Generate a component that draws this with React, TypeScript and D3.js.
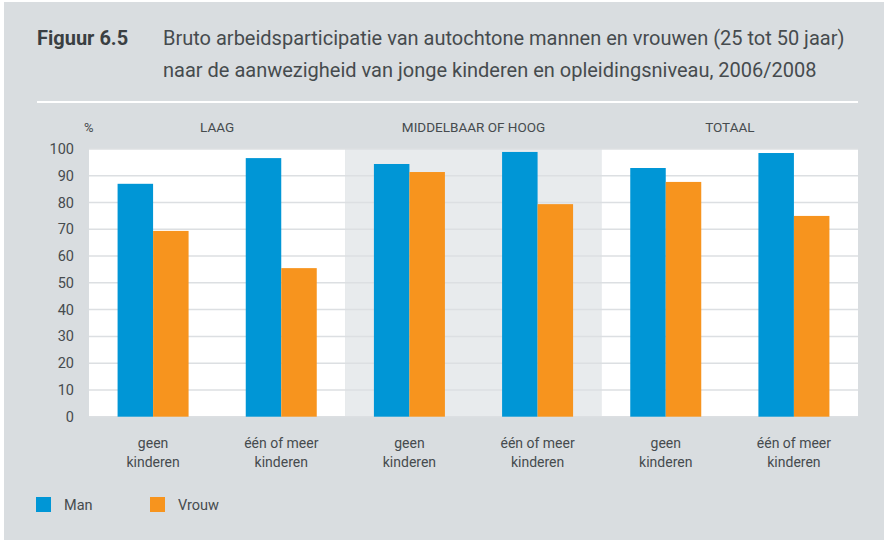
import React from "react";
import * as d3 from "d3";

const sections = ["LAAG", "MIDDELBAAR OF HOOG", "TOTAAL"];
const categories = [
  "LAAG|geen", "LAAG|een", "MID|geen", "MID|een", "TOT|geen", "TOT|een",
];
const categoryLabels = [
  ["geen", "kinderen"], ["één of meer", "kinderen"],
  ["geen", "kinderen"], ["één of meer", "kinderen"],
  ["geen", "kinderen"], ["één of meer", "kinderen"],
];
const seriesNames = ["Man", "Vrouw"];
const manValues = [87, 96.6, 94.4, 98.9, 92.9, 98.5];
const vrouwValues = [69.4, 55.5, 91.4, 79.4, 87.7, 75];
const yTicks = [0, 10, 20, 30, 40, 50, 60, 70, 80, 90, 100];

const W = 884, H = 542;
const FONT = "'Roboto', 'Liberation Sans', sans-serif";
const BLUE = "#0096d6", ORANGE = "#f7941e";
const BG = "#d9dde0", MID = "#e8ebed", TXT = "#464b4e";

export default function App() {
  const left = 89, right = 858, top = 149, bottom = 416.7;
  const x = d3.scaleBand<string>().domain(categories).range([left, right]).padding(0);
  const xSec = d3.scaleBand<string>().domain(sections).range([left, right]).padding(0);
  const y = d3.scaleLinear().domain([0, 100]).range([bottom, top]);
  const barW = 35.5;
  const series = [manValues, vrouwValues];
  const colors = [BLUE, ORANGE];

  return (
    <div style={{ position: "absolute", left: 0, top: 0 }}>
      <svg width={W} height={H} style={{ display: "block" }} fontFamily={FONT}>
        <rect x={4} y={2} width={W - 4} height={538} fill={BG} />
        <text x={37} y={45} fontSize={20} fontWeight="bold" fill="#3a3f42">Figuur 6.5</text>
        <text x={163} y={45} fontSize={20} fill={TXT}>Bruto arbeidsparticipatie van autochtone mannen en vrouwen (25 tot 50 jaar)</text>
        <text x={163} y={77} fontSize={20} fill={TXT}>naar de aanwezigheid van jonge kinderen en opleidingsniveau, 2006/2008</text>
        <line x1={37} x2={858} y1={102} y2={102} stroke="#ffffff" strokeWidth={2} />

        {sections.map((s, i) => (
          <rect key={s} x={xSec(s)!} y={top} width={xSec.bandwidth()} height={bottom - top}
            fill={i === 1 ? MID : "#ffffff"} />
        ))}
        {yTicks.map((t) => (
          <line key={t} x1={left} x2={right} y1={y(t)} y2={y(t)} stroke="#dcdfe2" strokeWidth={1.5} />
        ))}
        {yTicks.map((t) => (
          <text key={"l" + t} x={74} y={y(t)} dy="0.35em" textAnchor="end" fontSize={14.5} fill={TXT}>{t}</text>
        ))}
        <text x={84} y={132} fontSize={13} fill={TXT}>%</text>
        {sections.map((s) => (
          <text key={"s" + s} x={xSec(s)! + xSec.bandwidth() / 2} y={132} textAnchor="middle" fontSize={13.5} fill={TXT}>{s}</text>
        ))}

        {series.map((vals, si) =>
          vals.map((v, ci) => {
            const c = x(categories[ci])! + x.bandwidth() / 2;
            const bx = si === 0 ? c - barW : c;
            return <rect key={si + "-" + ci} x={bx} y={y(v)} width={barW} height={y(0) - y(v)} fill={colors[si]} />;
          })
        )}

        {categoryLabels.map((lines, ci) => (
          <text key={"c" + ci} x={x(categories[ci])! + x.bandwidth() / 2} textAnchor="middle" fontSize={14} fill={TXT}>
            <tspan x={x(categories[ci])! + x.bandwidth() / 2} y={448}>{lines[0]}</tspan>
            <tspan x={x(categories[ci])! + x.bandwidth() / 2} y={467}>{lines[1]}</tspan>
          </text>
        ))}

        {seriesNames.map((n, i) => (
          <g key={n}>
            <rect x={36 + i * 114} y={497} width={15} height={15} fill={colors[i]} />
            <text x={64 + i * 114} y={510} fontSize={14.5} fill={TXT}>{n}</text>
          </g>
        ))}
      </svg>
    </div>
  );
}
